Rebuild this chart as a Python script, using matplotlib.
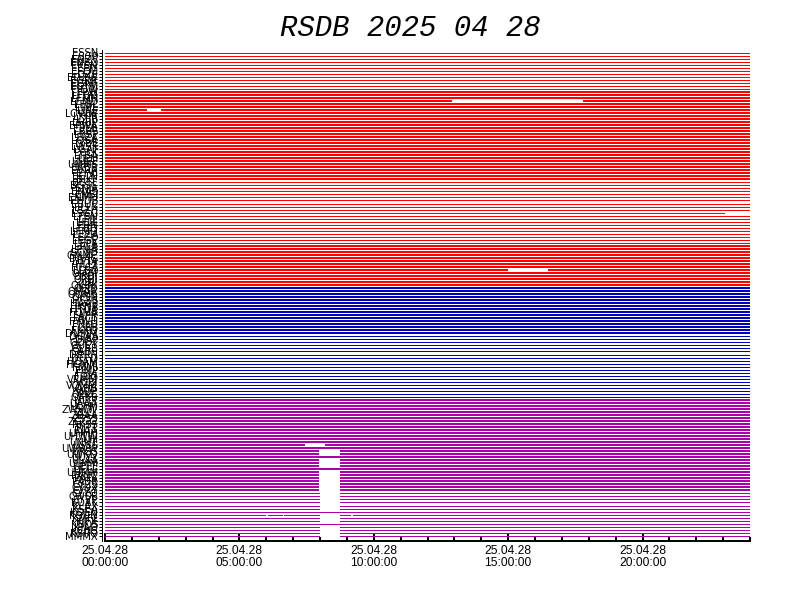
import matplotlib
matplotlib.use("Agg")
import matplotlib.pyplot as plt
from matplotlib.ticker import MultipleLocator

# station blocks, top to bottom
block_sizes = [13, 30, 21, 14, 16, 21, 31, 15]
block_colors = ["#FF0000", "#FF0000", "#FF0000", "#FF0000",
                "#0000B4", "#0000B4", "#AA00AA", "#AA00AA"]
block_thick = [False, True, False, True, True, False, True, False]

station_codes = (
    "ESSN ESGP ENZV ENBO EKSN EFJY EFOU EDZE EDZW EGRR "
    "EGNF EGYM EIDW LFPW LFBD LFMN LEMD LEBL LIML LIRE "
    "LOWW LKPR LZIB LHBP EPWA EPLB LRBS LBSF LDZA LQSA "
    "LYBE LWSK LGAT LCLK LTBA ULLI UUEE UMMS UKBB EVRA "
    "EYVI EETN BIKF BGTL BGSC ENJA ENAS ENBJ ENMH EHDB "
    "EBUC ELLX LSZH LSGG LFSN LFJL LFLL LFRN LFBO LFMD "
    "LEZA LECO LEGE LEPA LPLA LPMA GCXO GMMC DAAG DTTA "
    "HLLT HECA LLBG OJAM OSDI ORBI OIII OKBK OEJD OMAA "
    "OOMS OYSN HSSS HAAB HKNA HTDA FQMA FAPR FACT FYWH "
    "FNLU FCBB FKKD DNMM DGAA DIAP GOOY GUCY GLRB GABS "
    "DRRN DFFD HDAM HCMM FMMI FIMP FSIA FJDG VRMM VCBI "
    "VOMM VABB VIDP OPKC OAKB UTTT UAAA UCFM ZWWW ZLLL "
    "ZBAA ZSSS ZGGG RKSS RJTT RJAA UHHH UHWW UIII UNNT "
    "USSS UWWW URSS UWKD UUYY ULAA ULMM UEEE UELL UHMM "
    "PANC PAFA PABR CYZS CYUX CYXY CYYQ CWSE CYVP KOAK "
    "KLAX KSEA KDEN KOUN KMFL KJFK KBOS KIAD KCHS KBRO "
    "MMMX"
).split()

# missing data per row index (hours)
big_gap = (7.95, 8.75)
gaps = {
    16: [(12.9, 17.8)],
    19: [(1.55, 2.1)],
    53: [(23.05, 24.0)],
    72: [(15.0, 16.5)],
    130: [(7.45, 8.2)],
    153: [(5.95, 6.07), (6.6, 6.67), big_gap, (9.12, 9.24)],
}
for r in [132, 133, 135, 136, 137] + list(range(139, 152)) + [154, 155, 157, 158, 159, 160]:
    gaps.setdefault(r, []).append(big_gap)

tick_hours = [0, 5, 10, 15, 20]
tick_labels = ["25.04.28\n00:00:00", "25.04.28\n05:00:00", "25.04.28\n10:00:00",
               "25.04.28\n15:00:00", "25.04.28\n20:00:00"]

fig = plt.figure(figsize=(11, 8.5), dpi=72)
ax = fig.add_axes([105 / 792, (612 - 541) / 612, (750 - 105) / 792, (541 - 50) / 612])

row = 0
for size, color, thick in zip(block_sizes, block_colors, block_thick):
    for _ in range(size):
        start = 0.0
        for g0, g1 in sorted(gaps.get(row, [])):
            ax.hlines(row, start, g0, color=color, lw=2 if thick else 1, antialiased=False)
            start = g1
        if start < 24:
            ax.hlines(row, start, 24, color=color, lw=2 if thick else 1, antialiased=False)
        row += 1
n_rows = row

ax.set_xlim(0, 24)
ax.set_ylim((541 - 52.5) / 3.02, (50 - 52.5) / 3.02)

ax.set_yticks(range(n_rows))
ax.set_yticklabels(station_codes[:n_rows], fontsize=6, family="DejaVu Sans", fontweight="bold")
ax.tick_params(axis="y", direction="out", length=3, width=1, pad=1)

ax.set_xticks(tick_hours)
ax.set_xticklabels(tick_labels, fontsize=12, family="Liberation Sans", linespacing=0.95)
ax.xaxis.set_minor_locator(MultipleLocator(1))
ax.tick_params(axis="x", which="major", direction="in", length=8, width=2, pad=4)
ax.tick_params(axis="x", which="minor", direction="in", length=4, width=2)

for s in ["top", "right"]:
    ax.spines[s].set_visible(False)
ax.spines["bottom"].set_linewidth(2)
ax.spines["left"].set_linewidth(1)
ax.spines["left"].set_position(("outward", 3))

fig.text(0.518, 1 - 28 / 612, "RSDB 2025 04 28", ha="center", va="center",
         fontsize=29, family="Liberation Mono", style="italic")

fig.savefig("out.png", dpi=72)
